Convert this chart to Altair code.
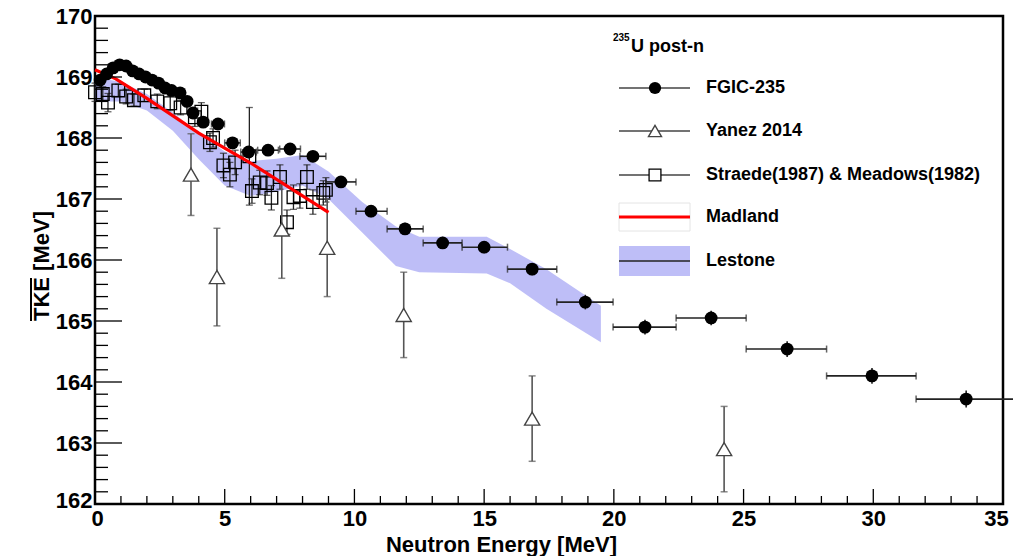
import altair as alt
import pandas as pd
import numpy as np

# ---------------- data ----------------
# FGIC-235 (filled circles)
fgic_E = [0.2, 0.45, 0.7, 0.95, 1.2, 1.45, 1.7, 1.95, 2.2, 2.45, 2.7, 2.95, 3.28, 3.55, 3.78,
          4.17, 4.74, 5.3, 5.92, 6.67, 7.52, 8.40, 9.48, 10.64, 11.95, 13.4, 15.0, 16.85, 18.9,
          21.2, 23.75, 26.68, 29.95, 33.58]
fgic_T = [168.95, 169.05, 169.15, 169.2, 169.18, 169.1, 169.05, 169.0, 168.95, 168.9, 168.82,
          168.78, 168.74, 168.6, 168.41, 168.26, 168.23, 167.92, 167.77, 167.80, 167.82, 167.70,
          167.28, 166.80, 166.51, 166.28, 166.21, 165.85, 165.31, 164.90, 165.05, 164.54, 164.10,
          163.72]
fgic_xlo = [0.08, 0.33, 0.58, 0.83, 1.08, 1.33, 1.58, 1.83, 2.08, 2.33, 2.58, 2.83, 3.16, 3.43,
            3.66, 3.97, 4.49, 5.0, 5.62, 6.27, 7.12, 7.9, 8.9, 10.06, 11.26, 12.65, 14.15, 15.9,
            17.8, 19.97, 22.4, 25.1, 28.2, 31.65]
fgic_xhi = [0.32, 0.57, 0.82, 1.07, 1.32, 1.57, 1.82, 2.07, 2.32, 2.57, 2.82, 3.07, 3.4, 3.67,
            3.9, 4.37, 4.99, 5.6, 6.22, 7.07, 7.92, 8.9, 10.06, 11.26, 12.65, 14.15, 15.9, 17.8,
            19.97, 22.4, 25.1, 28.2, 31.65, 35.5]
fgic_err = [0.08, 0.08, 0.08, 0.08, 0.08, 0.08, 0.08, 0.08, 0.08, 0.08, 0.08, 0.08, 0.08, 0.08,
            0.08, 0.08, 0.08, 0.08, 0.08, 0.08, 0.08, 0.08, 0.08, 0.1, 0.1, 0.1, 0.1, 0.1, 0.12,
            0.12, 0.12, 0.13, 0.13, 0.14]

# Yanez 2014 (open triangles)
yanez_E = [3.7, 4.7, 7.2, 8.95, 11.9, 16.85, 24.25]
yanez_T = [167.4, 165.72, 166.5, 166.2, 165.1, 163.4, 162.9]
yanez_err = [0.67, 0.8, 0.8, 0.8, 0.7, 0.7, 0.7]

# Straede(1987) & Meadows(1982) (open squares)
str_E = [0.0, 0.3, 0.5, 0.9, 1.2, 1.5, 1.9, 2.4, 2.9, 3.3, 3.85, 4.1, 4.43, 4.55, 4.95, 5.2,
         5.4, 5.95, 6.05, 6.35, 6.63, 6.8, 7.13, 7.4, 7.65, 7.9, 8.17, 8.4, 8.8, 8.9]
str_T = [168.75, 168.72, 168.58, 168.78, 168.68, 168.62, 168.7, 168.6, 168.57, 168.5, 168.34,
         168.43, 167.93, 168.0, 167.55, 167.4, 167.6, 167.7, 167.13, 167.27, 167.26, 167.02,
         167.36, 166.62, 167.03, 167.05, 167.36, 166.95, 167.1, 167.15]
str_err = [0.15, 0.12, 0.15, 0.1, 0.12, 0.1, 0.1, 0.12, 0.12, 0.12, 0.15, 0.15, 0.15, 0.15, 0.2,
           0.2, 0.2, 0.8, 0.2, 0.2, 0.2, 0.2, 0.2, 0.2, 0.2, 0.2, 0.2, 0.2, 0.2, 0.2]

# Madland (red line)
mad_E = [0.0, 0.8, 2.0, 4.0, 6.0, 8.0, 9.0]
mad_T = [169.12, 168.97, 168.65, 168.08, 167.59, 167.05, 166.78]

# Lestone (band)
les_E = [0, 1, 2, 3, 4, 5, 6, 7, 8, 9, 10.3, 11.6, 12.5, 15.1, 16.0, 17.4, 19.5]
les_hi = [169.0, 168.92, 168.72, 168.42, 168.08, 167.78, 167.62, 167.66, 167.72, 167.45, 166.95,
          166.55, 166.38, 166.38, 166.18, 165.85, 165.25]
les_lo = [168.6, 168.6, 168.45, 168.12, 167.65, 167.22, 167.05, 167.12, 167.22, 167.0, 166.45,
          165.9, 165.8, 165.78, 165.62, 165.2, 164.65]

x_ticks = [0, 5, 10, 15, 20, 25, 30, 35]
y_ticks = [162, 163, 164, 165, 166, 167, 168, 169, 170]

# ---------------- styling ----------------
FONT = "Liberation Sans"
W, H = 908, 488
xs = alt.Scale(domain=[0, 35], nice=False, zero=False)
ys = alt.Scale(domain=[162, 170], nice=False, zero=False)

XAXIS = alt.Axis(
    values=x_ticks, format="d", title="Neutron Energy [MeV]", ticks=False, domain=False, grid=False,
    labelFont=FONT, labelFontSize=22, labelFontWeight="bold", labelColor="black",
    labelPadding=4, labelFlush=False, labelOverlap=False,
    labelOffset={"expr": "datum.value == 35 ? -7 : (datum.value == 0 ? 2 : 0)"},
    titleFont=FONT, titleFontSize=22, titleFontWeight="bold", titleColor="black",
    titleX=406, titleY=47, titleAlign="center", titleBaseline="alphabetic")
YAXIS = alt.Axis(
    values=y_ticks, format="d", title="", ticks=False, domain=False, grid=False,
    labelFont=FONT, labelFontSize=22, labelFontWeight="bold", labelColor="black",
    labelPadding=3, labelOverlap=False,
    labelOffset={"expr": "datum.value == 162 ? -4 : 0"})


def X(f):
    return alt.X(f, type="quantitative", scale=xs, axis=XAXIS)


def Y(f):
    return alt.Y(f, type="quantitative", scale=ys, axis=YAXIS)


fg = pd.DataFrame({"E": fgic_E, "T": fgic_T, "xlo": fgic_xlo, "xhi": fgic_xhi, "err": fgic_err})
fg["ylo"] = fg["T"] - fg["err"]
fg["yhi"] = fg["T"] + fg["err"]

ya = pd.DataFrame({"E": yanez_E, "T": yanez_T, "err": yanez_err})
ya["ylo"] = ya["T"] - ya["err"]
ya["yhi"] = ya["T"] + ya["err"]

st = pd.DataFrame({"E": str_E, "T": str_T, "err": str_err})
st["ylo"] = st["T"] - st["err"]
st["yhi"] = st["T"] + st["err"]

md = pd.DataFrame({"E": mad_E, "T": mad_T})
ls = pd.DataFrame({"E": les_E, "hi": les_hi, "lo": les_lo})

BAND = "#8f8ff2"
BAND_OP = 0.58
band = alt.Chart(ls).mark_area(color=BAND, opacity=BAND_OP).encode(x=X("E"), y=Y("hi"), y2="lo")

# Straede squares
st_bar = alt.Chart(st).mark_rule(color="#222", strokeWidth=1.3).encode(x=X("E"), y=Y("ylo"), y2="yhi")
st_cap1 = alt.Chart(st).mark_tick(color="#222", orient="horizontal", size=7, thickness=1.3).encode(x=X("E"), y=Y("ylo"))
st_cap2 = alt.Chart(st).mark_tick(color="#222", orient="horizontal", size=7, thickness=1.3).encode(x=X("E"), y=Y("yhi"))
st_pt = alt.Chart(st).mark_point(shape="square", filled=False, size=160, color="black",
                                 strokeWidth=1.3, opacity=1).encode(x=X("E"), y=Y("T"))

# Yanez triangles
ya_bar = alt.Chart(ya).mark_rule(color="#555", strokeWidth=1.6).encode(x=X("E"), y=Y("ylo"), y2="yhi")
ya_cap1 = alt.Chart(ya).mark_tick(color="#555", orient="horizontal", size=7, thickness=1.5).encode(x=X("E"), y=Y("ylo"))
ya_cap2 = alt.Chart(ya).mark_tick(color="#555", orient="horizontal", size=7, thickness=1.5).encode(x=X("E"), y=Y("yhi"))
ya_pt = alt.Chart(ya).mark_point(shape="triangle-up", filled=True, fill="white", stroke="#444",
                                 strokeWidth=1.4, size=230, opacity=1).encode(x=X("E"), y=Y("T"))

# Madland
md_line = alt.Chart(md).mark_line(color="#ff0000", strokeWidth=3.2).encode(x=X("E"), y=Y("T"))

# FGIC
fg_h = alt.Chart(fg).mark_rule(color="#222", strokeWidth=1.6).encode(x=X("xlo"), x2="xhi", y=Y("T"))
fg_c1 = alt.Chart(fg).mark_tick(color="#222", orient="vertical", size=7, thickness=1.5).encode(x=X("xlo"), y=Y("T"))
fg_c2 = alt.Chart(fg).mark_tick(color="#222", orient="vertical", size=7, thickness=1.5).encode(x=X("xhi"), y=Y("T"))
fg_v = alt.Chart(fg).mark_rule(color="#222", strokeWidth=1.6).encode(x=X("E"), y=Y("ylo"), y2="yhi")
fg_pt = alt.Chart(fg).mark_circle(size=165, color="black", opacity=1).encode(x=X("E"), y=Y("T"))

# inner ticks (ROOT style)
ymaj = pd.DataFrame({"v": y_ticks})
ymin = pd.DataFrame({"v": [v for v in np.round(np.arange(162, 170.001, 0.2), 1) if abs(v - round(v)) > 1e-6]})
xmaj = pd.DataFrame({"v": x_ticks})
xmin = pd.DataFrame({"v": [v for v in range(0, 36) if v % 5 != 0]})
t_ymaj = alt.Chart(ymaj).mark_rule(color="black", strokeWidth=1.3).encode(y=Y("v"), x=alt.value(0), x2=alt.value(27))
t_ymin = alt.Chart(ymin).mark_rule(color="black", strokeWidth=1.3).encode(y=Y("v"), x=alt.value(0), x2=alt.value(13))
t_xmaj = alt.Chart(xmaj).mark_rule(color="black", strokeWidth=1.3).encode(x=X("v"), y=alt.value(H), y2=alt.value(H - 15))
t_xmin = alt.Chart(xmin).mark_rule(color="black", strokeWidth=1.3).encode(x=X("v"), y=alt.value(H), y2=alt.value(H - 8))

# y title with overline on TKE
ytitle = alt.Chart(pd.DataFrame({"t": ["TKE [MeV]"]})).mark_text(
    angle=270, font=FONT, fontSize=22, fontWeight="bold", color="black", baseline="middle", align="center"
).encode(text="t:N", x=alt.value(-53), y=alt.value(250))
overline = alt.Chart(pd.DataFrame({"a": [0]})).mark_rule(color="black", strokeWidth=2).encode(
    x=alt.value(-64), y=alt.value(262), y2=alt.value(305))

# ---------------- legend ----------------
LX0, LX1, LXM, LXT = 524, 595, 560, 611
rows = {"FGIC-235": 72, "Yanez 2014": 115, "Straede(1987) & Meadows(1982)": 159, "Madland": 201, "Lestone": 245}
leg = []
leg.append(alt.Chart(pd.DataFrame({"t": ["235"]})).mark_text(
    font=FONT, fontSize=10, fontWeight="bold", align="left", baseline="alphabetic", color="black"
).encode(text="t:N", x=alt.value(518), y=alt.value(25)))
leg.append(alt.Chart(pd.DataFrame({"t": ["U post-n"]})).mark_text(
    font=FONT, fontSize=18, fontWeight="bold", align="left", baseline="alphabetic", color="black"
).encode(text="t:N", x=alt.value(536), y=alt.value(36)))
for lab, yy in rows.items():
    leg.append(alt.Chart(pd.DataFrame({"t": [lab]})).mark_text(
        font=FONT, fontSize=18, fontWeight="bold", align="left", baseline="middle", color="black"
    ).encode(text="t:N", x=alt.value(LXT), y=alt.value(yy)))
leg.append(alt.Chart(pd.DataFrame({"a": [0]})).mark_rect(fill="white", stroke="#e4e4e4", strokeWidth=1).encode(
    x=alt.value(LX0), x2=alt.value(LX1), y=alt.value(rows["Madland"] - 14), y2=alt.value(rows["Madland"] + 14)))
leg.append(alt.Chart(pd.DataFrame({"a": [0]})).mark_rect(fill=BAND, opacity=BAND_OP).encode(
    x=alt.value(LX0), x2=alt.value(LX1), y=alt.value(rows["Lestone"] - 15), y2=alt.value(rows["Lestone"] + 15)))
for lab, col, wid in [("FGIC-235", "#444", 1.5), ("Yanez 2014", "#444", 1.5),
                      ("Straede(1987) & Meadows(1982)", "#444", 1.5), ("Madland", "#ff0000", 3),
                      ("Lestone", "#222", 1.5)]:
    leg.append(alt.Chart(pd.DataFrame({"a": [0]})).mark_rule(color=col, strokeWidth=wid).encode(
        x=alt.value(LX0), x2=alt.value(LX1), y=alt.value(rows[lab])))
leg.append(alt.Chart(pd.DataFrame({"a": [0]})).mark_circle(size=150, color="black", opacity=1).encode(
    x=alt.value(LXM), y=alt.value(rows["FGIC-235"])))
leg.append(alt.Chart(pd.DataFrame({"a": [0]})).mark_point(
    shape="triangle-up", filled=True, fill="white", stroke="#444", strokeWidth=1.4, size=170, opacity=1).encode(
    x=alt.value(LXM), y=alt.value(rows["Yanez 2014"])))
leg.append(alt.Chart(pd.DataFrame({"a": [0]})).mark_point(
    shape="square", filled=True, fill="white", stroke="black", strokeWidth=1.3, size=140, opacity=1).encode(
    x=alt.value(LXM), y=alt.value(rows["Straede(1987) & Meadows(1982)"])))

chart = alt.layer(
    band, st_bar, st_cap1, st_cap2, st_pt, ya_bar, ya_cap1, ya_cap2, ya_pt, md_line,
    fg_h, fg_c1, fg_c2, fg_v, fg_pt, t_ymaj, t_ymin, t_xmaj, t_xmin, ytitle, overline, *leg
).properties(
    width=W, height=H,
    padding={"left": 95, "top": 16, "right": 10, "bottom": 52},
    autosize="none", background="white",
).configure_view(stroke="black", strokeWidth=2.5)

chart.save("out.html", embed_options={"renderer": "svg", "actions": False})
